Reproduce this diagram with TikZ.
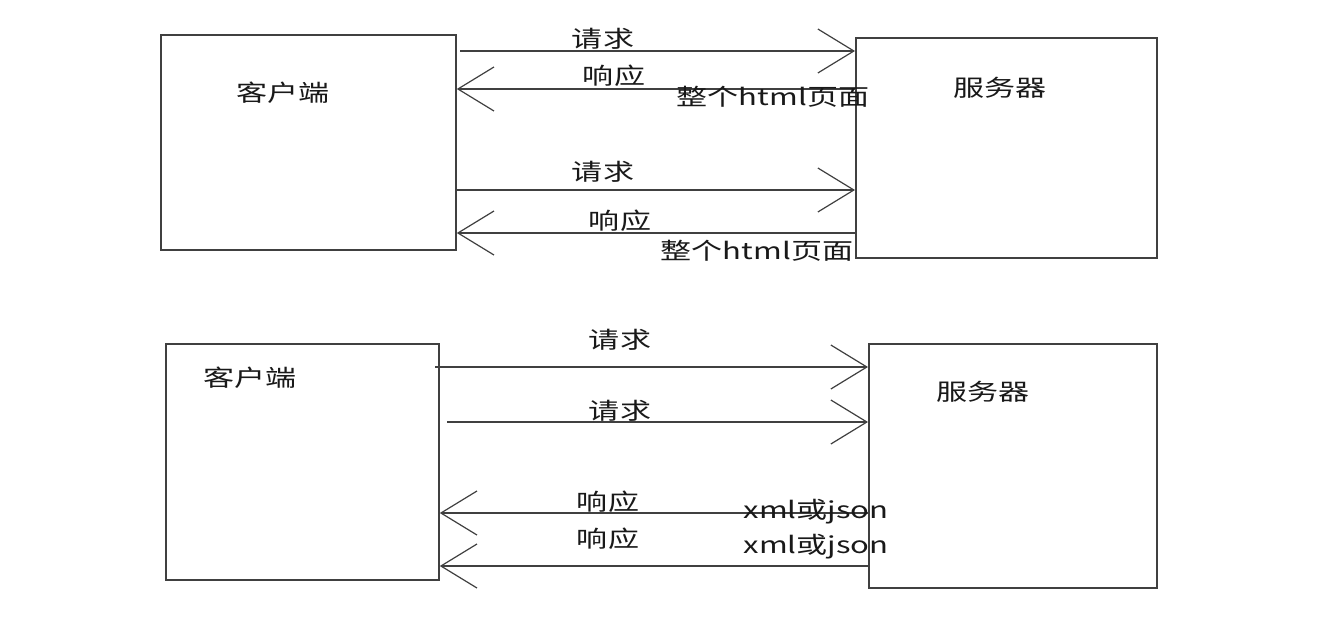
\documentclass[tikz,border=0pt]{standalone}
\usepackage{fontspec}
\setmainfont{Noto Sans CJK SC}
\usetikzlibrary{arrows.meta}
\begin{document}
\begin{tikzpicture}[x=1pt,y=-1pt,
  box/.style={draw=black!75,line width=1.8pt,anchor=north west,inner sep=0pt},
  lbl/.style={font=\fontsize{23}{26}\selectfont,text=black!90,inner sep=0pt,xscale=1.35},
  conn/.style={draw=black!75,line width=1.4pt,-{Straight Barb[length=36pt,width=44pt,line width=1.2pt]}},
]
\useasboundingbox (0,0) rectangle (1321,640);
\fill[white] (0,0) rectangle (1321,640);
% boxes
\node[box,minimum width=295pt,minimum height=215pt] (c1) at (160,34) {};
\node[box,minimum width=301pt,minimum height=220pt] (s1) at (855,37) {};
\node[box,minimum width=273pt,minimum height=236pt] (c2) at (165,343) {};
\node[box,minimum width=288pt,minimum height=244pt] (s2) at (868,343) {};
% box labels
\node[lbl] (c1l) at (283,93) {客户端};
\node[lbl] (s1l) at (1000,88) {服务器};
\node[lbl] (c2l) at (250,378) {客户端};
\node[lbl] (s2l) at (983,392) {服务器};
% top diagram connectors
\coordinate (a1s) at (460,51);
\draw[conn] (a1s) -- (s1.west |- a1s);
\node[lbl] (t1) at (603,39) {请求};
\coordinate (a2s) at (855,89);
\draw[conn] (s1.west |- a2s) -- (c1.east |- a2s);
\node[lbl] (t2) at (614,76) {响应};
\node[lbl] (t3) at (773,97) {整个html页面};
\coordinate (a3s) at (455,190);
\draw[conn] (c1.east |- a3s) -- (s1.west |- a3s);
\node[lbl] (t4) at (603,172) {请求};
\coordinate (a4s) at (855,233);
\draw[conn] (s1.west |- a4s) -- (c1.east |- a4s);
\node[lbl] (t5) at (620,221) {响应};
\node[lbl] (t6) at (757,251) {整个html页面};
% bottom diagram connectors
\coordinate (b1s) at (435,367);
\draw[conn] (b1s) -- (s2.west |- b1s);
\node[lbl] (u1) at (620,340) {请求};
\coordinate (b2s) at (447,422);
\draw[conn] (b2s) -- (s2.west |- b2s);
\node[lbl] (u2) at (620,411) {请求};
\coordinate (b3s) at (868,513);
\draw[conn] (s2.west |- b3s) -- (c2.east |- b3s);
\node[lbl] (u3) at (608,502) {响应};
\node[lbl] (u4) at (816,512) {xml或json};
\coordinate (b4s) at (868,566);
\draw[conn] (s2.west |- b4s) -- (c2.east |- b4s);
\node[lbl] (u5) at (608,539) {响应};
\node[lbl] (u6) at (816,547) {xml或json};
\end{tikzpicture}
\end{document}
